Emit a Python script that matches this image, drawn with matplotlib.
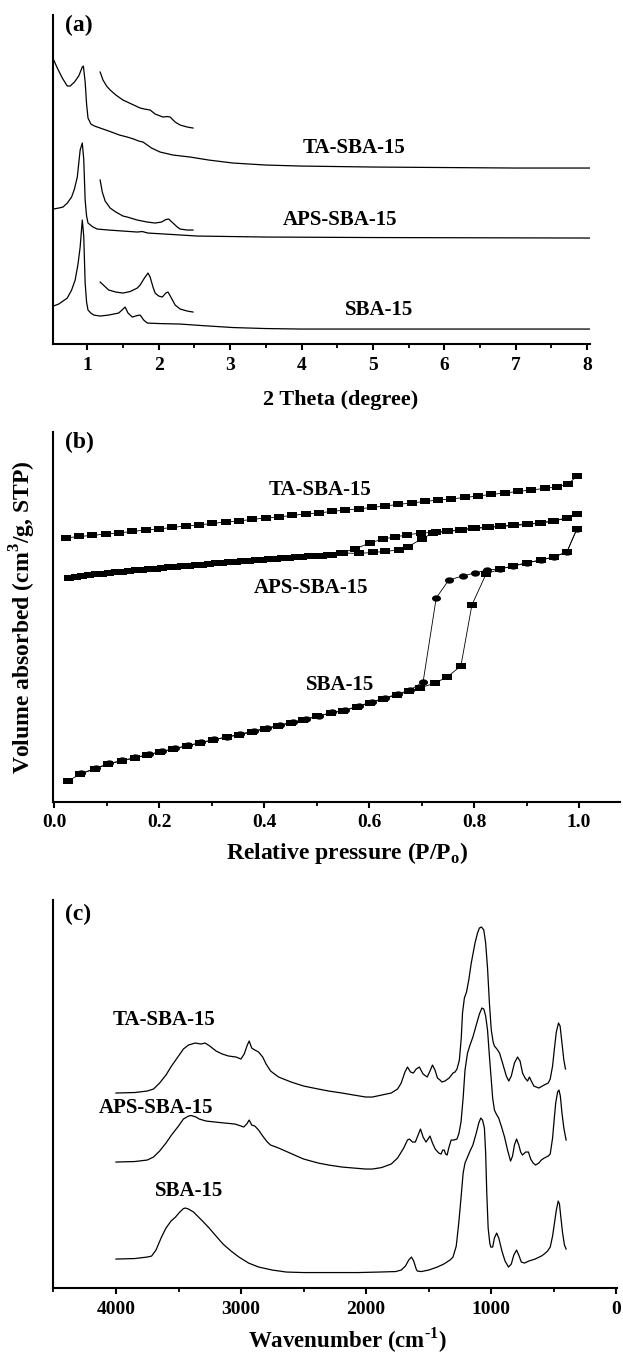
import numpy as np
import matplotlib
matplotlib.use("Agg")
import matplotlib.pyplot as plt
from matplotlib.path import Path
from matplotlib.ticker import MultipleLocator

plt.rcParams['font.family'] = ['Liberation Serif', 'DejaVu Serif']
plt.rcParams['font.weight'] = 'bold'
plt.rcParams['mathtext.fontset'] = 'custom'
plt.rcParams['mathtext.rm'] = 'Liberation Serif:bold'
plt.rcParams['mathtext.bf'] = 'Liberation Serif:bold'

# ---------------- (a) low-angle XRD ----------------
ta_x = [0.524, 0.58, 0.65, 0.72, 0.76, 0.82, 0.88, 0.93, 0.945, 0.97, 0.99, 1.01, 1.05, 1.1, 1.18,
        1.3, 1.45, 1.56, 1.65, 1.72, 1.78, 1.9, 2.02, 2.2, 2.44, 2.7, 3.04, 3.5, 3.98, 5.0, 6.0, 7.0, 8.04]
ta_y = [285, 276, 266, 258, 258, 262, 268, 277, 278, 262, 240, 226, 220, 218, 216,
        213, 209, 207, 205, 203, 202, 196, 192, 189, 187, 184, 181, 179, 178, 177, 176.5, 176, 176]
ta_ins_x = [1.18, 1.22, 1.27, 1.32, 1.4, 1.5, 1.56, 1.65, 1.74, 1.8, 1.88, 1.95, 2.06, 2.12, 2.16,
            2.23, 2.3, 2.4, 2.48]
ta_ins_y = [272, 264, 258, 254, 249, 244, 242, 239, 236, 235, 234, 230, 227, 227.5, 227,
            222, 219, 217, 216]

aps_x = [0.524, 0.6, 0.66, 0.72, 0.78, 0.82, 0.86, 0.9, 0.93, 0.95, 0.97, 0.99, 1.01, 1.08, 1.14,
         1.3, 1.5, 1.7, 1.77, 1.85, 2.2, 2.54, 3.5, 5.0, 8.04]
aps_y = [135, 136, 137, 141, 147, 155, 167, 194, 201, 185, 144, 128, 121, 117, 115,
         114, 113, 112, 112.5, 111, 109.5, 108, 107, 106.5, 106]
aps_ins_x = [1.18, 1.21, 1.25, 1.32, 1.4, 1.5, 1.56, 1.7, 1.84, 1.95, 2.04, 2.1, 2.14, 2.2, 2.26,
             2.3, 2.4, 2.48]
aps_ins_y = [164, 152, 143, 136, 132, 128, 127, 124, 122, 121, 122, 124.5, 125, 121, 117,
             115, 114, 114]

sba_x = [0.524, 0.6, 0.72, 0.78, 0.83, 0.87, 0.9, 0.93, 0.95, 0.97, 0.99, 1.01, 1.05, 1.09, 1.18,
         1.3, 1.44, 1.5, 1.53, 1.57, 1.63, 1.7, 1.74, 1.79, 1.84, 2.0, 2.3, 2.6, 3.04, 3.5, 4.0, 8.04]
sba_y = [38, 40, 46, 54, 64, 80, 97, 124, 108, 61, 42, 34, 31, 29, 28,
         29, 31, 35, 37, 31, 27, 28.5, 29, 24, 21, 20.5, 20, 18.5, 16.5, 15.5, 15, 15]
sba_ins_x = [1.18, 1.3, 1.4, 1.5, 1.6, 1.7, 1.74, 1.8, 1.85, 1.88, 1.92, 1.95, 2.0, 2.05, 2.1,
             2.13, 2.17, 2.23, 2.3, 2.4, 2.48]
sba_ins_y = [62, 54, 52, 51, 52.5, 56, 59, 66, 71, 67, 57, 51, 48, 47, 51,
             52, 47, 39, 35, 33, 32]

# ---------------- (b) N2 isotherms ----------------
ta_p = [0.023, 0.048, 0.073, 0.099, 0.124, 0.149, 0.175, 0.200, 0.225, 0.251, 0.276, 0.301, 0.327,
        0.352, 0.377, 0.403, 0.428, 0.453, 0.479, 0.504, 0.529, 0.555, 0.580, 0.605, 0.631, 0.656,
        0.681, 0.707, 0.732, 0.757, 0.783, 0.808, 0.833, 0.859, 0.884, 0.909, 0.935, 0.958, 0.979, 0.997]
ta_v = [264, 265.5, 266.5, 268, 269, 270.5, 272, 273, 274.5, 276, 277, 278.5, 280,
        281, 282.5, 284, 285, 286.5, 288, 289, 290.5, 292, 293, 294.5, 296, 297.5,
        299, 300.5, 302, 303, 304.5, 306, 307.5, 309, 310.5, 312, 313.5, 315, 318, 326]

aps_ads_p = [0.029, 0.054, 0.080, 0.105, 0.130, 0.156, 0.181, 0.206, 0.232, 0.257, 0.282, 0.308,
             0.333, 0.358, 0.384, 0.409, 0.434, 0.460, 0.485, 0.510, 0.530, 0.55, 0.58, 0.608,
             0.63, 0.657, 0.674, 0.70, 0.722, 0.748, 0.773, 0.798, 0.825, 0.85, 0.874, 0.90,
             0.926, 0.95, 0.977, 0.996]
aps_ads_v = [224, 226, 227.5, 229, 230, 231.5, 232.5, 234, 235, 236, 237, 238.5,
             239.5, 240.5, 241.5, 242.5, 243.5, 244.5, 245.5, 246, 247, 249, 248.5, 249.5,
             250.5, 252, 255, 263, 269, 271, 272, 274, 275, 276, 277, 278,
             279, 281, 284, 288]
aps_des_p = [0.996, 0.977, 0.953, 0.928, 0.902, 0.877, 0.852, 0.828, 0.802, 0.777, 0.750, 0.728,
             0.699, 0.672, 0.650, 0.627, 0.602, 0.573, 0.547, 0.522, 0.497, 0.472, 0.447, 0.422,
             0.396, 0.371, 0.346, 0.320, 0.295, 0.270, 0.244, 0.219, 0.194, 0.168, 0.143, 0.118,
             0.092, 0.067, 0.042]
aps_des_v = [288, 284, 281, 279, 277.5, 276.5, 275.5, 274.5, 273.5, 272, 270.5, 269.5,
             269, 267, 265, 263, 259, 253, 249, 247, 246, 245, 244, 243,
             242, 241, 240, 239, 238, 236.5, 235.5, 234.5, 233, 232, 231, 229.5,
             228, 227, 225]

sba_ads_p = [0.027, 0.05, 0.078, 0.103, 0.129, 0.154, 0.177, 0.202, 0.227, 0.253, 0.278, 0.303,
             0.33, 0.353, 0.378, 0.402, 0.427, 0.451, 0.475, 0.5, 0.527, 0.55, 0.577, 0.602,
             0.627, 0.653, 0.676, 0.697, 0.726, 0.749, 0.775, 0.796, 0.823, 0.85, 0.875, 0.9,
             0.928, 0.952, 0.977, 0.996]
sba_ads_v = [21, 28, 33, 38, 41, 44, 47, 50, 53, 56, 59, 62,
             65, 67, 70, 73, 76, 79, 82, 85.5, 89, 91, 95, 99,
             103, 107, 111, 114, 119, 125, 136, 197, 228, 233, 236, 239,
             242, 245, 250, 273]
sba_des_p = [0.996, 0.977, 0.952, 0.928, 0.9, 0.875, 0.85, 0.825, 0.802, 0.779, 0.752, 0.728,
             0.703, 0.678, 0.655, 0.63, 0.605, 0.58, 0.555, 0.53, 0.505, 0.48, 0.455, 0.43,
             0.405, 0.38, 0.355, 0.33, 0.305, 0.28, 0.255, 0.23, 0.205, 0.18, 0.155, 0.13,
             0.105, 0.08, 0.052]
sba_des_v = [273, 250, 245, 242, 239, 236, 233, 232, 229, 226, 222, 204,
             120, 112, 108, 104, 100, 96, 92, 89.5, 86, 83, 80, 77,
             74, 71, 68, 65, 62.5, 59.5, 56.5, 53.5, 50.5, 47.5, 44.5, 41.5,
             38.5, 34, 28.5]

# ---------------- (c) FTIR ----------------
ir_ta = [(4000, 195), (3850, 195.5), (3750, 197), (3700, 199), (3651, 205), (3600, 213), (3556, 222),
         (3500, 232), (3461, 239), (3420, 243), (3366, 245), (3320, 244), (3287, 245), (3250, 242),
         (3200, 237), (3150, 234), (3100, 232), (3040, 231), (3001, 229), (2975, 234), (2950, 243),
         (2935, 247), (2915, 240), (2890, 238), (2860, 236), (2827, 231), (2800, 224), (2764, 217),
         (2700, 211), (2600, 206), (2500, 202), (2383, 199), (2300, 197), (2193, 195), (2100, 193),
         (2003, 191), (1950, 191), (1876, 193), (1800, 195), (1749, 199), (1720, 205), (1690, 216),
         (1670, 221), (1645, 216), (1623, 215), (1600, 219), (1575, 221), (1545, 214), (1512, 211),
         (1490, 217), (1470, 223), (1450, 218), (1430, 210), (1410, 208), (1395, 206), (1370, 207),
         (1337, 210), (1306, 215), (1290, 216), (1274, 219), (1255, 228), (1240, 250), (1230, 275),
         (1215, 290), (1198, 296), (1180, 308), (1160, 325), (1130, 345), (1110, 355), (1095, 360),
         (1078, 361), (1060, 358), (1045, 345), (1030, 320), (1015, 285), (1000, 258), (985, 246),
         (975, 242), (955, 239), (934, 235), (910, 225), (880, 212), (860, 207), (840, 212),
         (815, 225), (790, 231), (770, 227), (750, 215), (730, 210), (710, 207), (695, 211),
         (680, 207), (660, 202), (620, 200), (577, 203), (545, 205), (529, 209), (510, 222),
         (495, 240), (480, 256), (463, 265), (450, 262), (435, 245), (420, 228), (407, 219)]
ir_aps = [(4000, 126), (3850, 126.5), (3750, 128), (3700, 131), (3651, 137), (3600, 145), (3556, 153),
          (3500, 162), (3461, 169), (3420, 172), (3398, 172.5), (3360, 171), (3334, 169), (3280, 167),
          (3208, 166), (3130, 165), (3049, 164), (3000, 162), (2979, 161), (2955, 164), (2935, 168),
          (2915, 163), (2890, 162), (2860, 158), (2827, 152), (2790, 146), (2764, 143), (2700, 140),
          (2573, 133), (2500, 129), (2383, 125), (2300, 123), (2193, 121), (2100, 120), (2003, 119),
          (1950, 119), (1876, 120.5), (1800, 124), (1749, 130), (1700, 140), (1670, 148), (1654, 149),
          (1630, 146), (1607, 146), (1585, 153), (1566, 159), (1545, 151), (1522, 146), (1505, 149),
          (1490, 152), (1470, 145), (1448, 139), (1420, 135), (1401, 134), (1388, 138), (1376, 138),
          (1365, 134), (1353, 133), (1340, 140), (1321, 148), (1300, 148), (1274, 149), (1258, 155),
          (1242, 166), (1225, 190), (1210, 218), (1190, 235), (1170, 243), (1147, 251), (1120, 263),
          (1095, 274), (1075, 280), (1060, 279), (1045, 272), (1030, 258), (1015, 232), (1000, 208),
          (989, 190), (975, 178), (960, 174), (941, 170), (920, 162), (894, 151), (870, 138),
          (846, 127), (830, 132), (815, 143), (798, 149), (780, 143), (765, 136), (751, 133),
          (725, 136), (703, 136), (685, 129), (665, 125), (646, 123), (620, 125), (600, 128),
          (577, 130), (545, 132), (529, 134), (510, 150), (497, 169), (485, 185), (470, 196),
          (459, 198), (448, 192), (435, 175), (420, 160), (402, 148)]
ir_sba = [(4000, 29), (3850, 29.5), (3750, 31), (3715, 32), (3680, 38), (3636, 51), (3600, 60),
          (3560, 67), (3524, 71), (3490, 76), (3460, 79.5), (3445, 80), (3420, 79), (3380, 76),
          (3340, 71), (3300, 66), (3255, 60), (3200, 52), (3144, 44), (3080, 37), (3017, 31),
          (2940, 25), (2859, 21), (2750, 18), (2637, 16), (2500, 15.5), (2383, 15.5), (2200, 15.5),
          (2066, 15.5), (1900, 16), (1765, 16.5), (1720, 18), (1686, 22), (1660, 28), (1638, 31),
          (1620, 27), (1600, 19), (1591, 17), (1560, 16.5), (1500, 18), (1432, 21), (1380, 24),
          (1330, 28), (1306, 31), (1280, 42), (1260, 65), (1242, 90), (1225, 115), (1210, 125),
          (1190, 131), (1170, 137), (1147, 143), (1120, 155), (1100, 165), (1084, 170), (1070, 168),
          (1055, 160), (1045, 135), (1036, 95), (1025, 60), (1012, 45), (1004, 41), (989, 41),
          (975, 50), (957, 55), (940, 50), (915, 37), (890, 27), (862, 21), (840, 24), (820, 33),
          (798, 38), (780, 33), (760, 26), (735, 25), (700, 27), (650, 29), (600, 32), (577, 34),
          (550, 37), (529, 41), (510, 52), (495, 65), (480, 78), (465, 87), (455, 84), (445, 72),
          (430, 55), (415, 43), (402, 39)]

samples = ['TA-SBA-15', 'APS-SBA-15', 'SBA-15']

fig = plt.figure(figsize=(6.23, 13.54), dpi=100)
axa = fig.add_axes([0.0851, 0.7459, 0.862, 0.2430])
axb = fig.add_axes([0.0851, 0.4077, 0.910, 0.2733])
axc = fig.add_axes([0.0851, 0.0487, 0.9053, 0.2866])


def style(ax):
    for s in ['top', 'right']:
        ax.spines[s].set_visible(False)
    for s in ['left', 'bottom']:
        ax.spines[s].set_linewidth(1.5)
    ax.set_yticks([])
    ax.tick_params(axis='x', which='major', direction='out', length=4, width=1.5,
                   labelsize=14, pad=5)
    ax.tick_params(axis='x', which='minor', direction='out', length=3, width=1.3)


lw = 0.9
axa.plot(ta_x, ta_y, color='black', lw=lw)
axa.plot(ta_ins_x, ta_ins_y, color='black', lw=lw)
axa.plot(aps_x, aps_y, color='black', lw=lw)
axa.plot(aps_ins_x, aps_ins_y, color='black', lw=lw)
axa.plot(sba_x, sba_y, color='black', lw=lw)
axa.plot(sba_ins_x, sba_ins_y, color='black', lw=lw)
axa.set_xlim(0.52, 8.04)
axa.set_ylim(0, 329)
axa.xaxis.set_major_locator(MultipleLocator(1))
axa.xaxis.set_minor_locator(MultipleLocator(0.5))
style(axa)
axa.set_xlabel('2 Theta (degree)', fontsize=16, fontweight='bold')
axa.xaxis.set_label_coords(0.536, -0.17)
axa.xaxis.label.set_va('center')
for name, (x, y) in zip(samples, [(4.73, 196), (4.54, 124), (5.08, 34)]):
    axa.text(x, y, name, fontsize=15, fontweight='bold', ha='center', va='center')
axa.text(0.023, 1.0, '(a)', transform=axa.transAxes, fontsize=17, fontweight='bold',
         ha='left', va='top')

# custom markers: flat rectangle and flat ellipse
rect = Path([(-1, -0.6), (1, -0.6), (1, 0.6), (-1, 0.6), (-1, -0.6)],
            [Path.MOVETO, Path.LINETO, Path.LINETO, Path.LINETO, Path.CLOSEPOLY])
t = np.linspace(0, 2 * np.pi, 40)
ell = Path(np.column_stack([np.cos(t), 0.7 * np.sin(t)]), closed=True)

mk = dict(color='black', lw=0.6, markersize=6.5, markeredgewidth=0)
axb.plot(ta_p, ta_v, marker=rect, **mk)
axb.plot(aps_ads_p, aps_ads_v, marker=rect, **mk)
axb.plot(aps_des_p, aps_des_v, marker=rect, **mk)
axb.plot(sba_ads_p, sba_ads_v, marker=rect, **mk)
axb.plot(sba_des_p, sba_des_v, marker=ell, **mk)
axb.set_xlim(-0.002, 1.078)
axb.set_ylim(0, 370)
axb.xaxis.set_major_locator(MultipleLocator(0.2))
axb.xaxis.set_minor_locator(MultipleLocator(0.1))
axb.xaxis.set_major_formatter(plt.FormatStrFormatter('%.1f'))
style(axb)
axb.set_xlabel(r'Relative pressure (P/P$_\mathregular{o}$)', fontsize=17, fontweight='bold')
axb.xaxis.set_label_coords(0.519, -0.138)
axb.xaxis.label.set_va('center')
axb.set_ylabel(r'Volume absorbed (cm$^\mathregular{3}$/g, STP)', fontsize=17, fontweight='bold')
axb.yaxis.set_label_coords(-0.053, 0.5)
axb.yaxis.label.set_va('center')
for name, (x, y) in zip(samples, [(0.507, 312), (0.49, 214), (0.545, 117)]):
    axb.text(x, y, name, fontsize=15, fontweight='bold', ha='center', va='center')
axb.text(0.022, 1.0, '(b)', transform=axb.transAxes, fontsize=17, fontweight='bold',
         ha='left', va='top')

for series in [ir_ta, ir_aps, ir_sba]:
    wn, val = zip(*series)
    axc.plot(wn, val, color='black', lw=lw)
axc.set_xlim(4503, -5)
axc.set_ylim(0, 388)
axc.xaxis.set_major_locator(MultipleLocator(1000))
axc.xaxis.set_minor_locator(MultipleLocator(500))
style(axc)
axc.set_xlabel('Wavenumber (cm$^\\mathregular{\u2010 1}$)', fontsize=16.5, fontweight='bold')
axc.xaxis.set_label_coords(0.521, -0.152)
axc.xaxis.label.set_va('baseline')
for name, (x, y) in zip(samples, [(3613, 268), (3677, 180), (3417, 97)]):
    axc.text(x, y, name, fontsize=15, fontweight='bold', ha='center', va='center')
axc.text(0.022, 0.99, '(c)', transform=axc.transAxes, fontsize=17, fontweight='bold',
         ha='left', va='top')

fig.savefig('out.png', dpi=100)
